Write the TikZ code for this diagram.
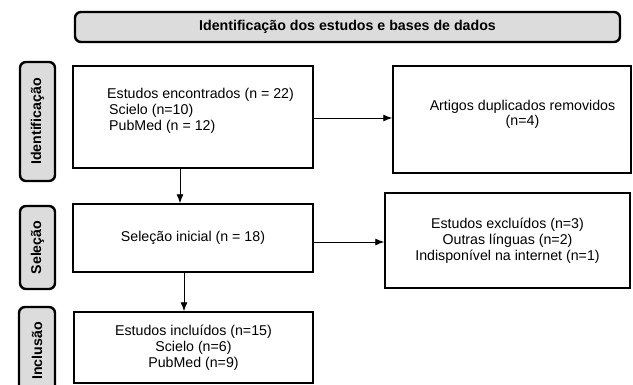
\documentclass[tikz,border=0pt]{standalone}
\usepackage{fontspec}
\setmainfont{Liberation Sans}
\usetikzlibrary{arrows.meta,shadows}
\definecolor{labgray}{HTML}{DCDCDC}
\begin{document}
\begin{tikzpicture}[x=1pt,y=-1pt,
  txt/.style={font=\fontsize{14.2}{16}\selectfont, align=center, inner sep=0pt},
  stagebox/.style={draw, line width=1.5pt, fill=white, inner sep=0pt,
    drop shadow={shadow xshift=0.9pt, shadow yshift=-0.9pt, fill=black, opacity=1}},
  phase/.style={draw, line width=2.4pt, fill=labgray, rounded corners=6pt, inner sep=0pt},
  phasetxt/.style={rotate=90, font=\fontsize{14.2}{16}\selectfont\bfseries, inner sep=0pt},
  link/.style={line width=0.9pt, -{Latex[length=9pt,width=7pt]}}
]
\useasboundingbox (0,0) rectangle (633,384);

% header
\node[phase, minimum width=545pt, minimum height=30pt, font=\fontsize{14.2}{16}\selectfont\bfseries]
  (head) at (347.5,27) {Identificação dos estudos e bases de dados};

% phase labels
\node[phase, minimum width=35pt, minimum height=119pt] (lab1) at (37.5,121.5) {};
\node[phasetxt] (lab1t) at (lab1.center) {Identificação};
\node[phase, minimum width=35pt, minimum height=83pt] (lab2) at (37.5,247.5) {};
\node[phasetxt] (lab2t) at (lab2.center) {Seleção};
\node[phase, minimum width=36pt, minimum height=88pt] (lab3) at (37,351) {};
\node[phasetxt] (lab3t) at (lab3.center) {Inclusão};

% left column boxes
\node[stagebox, minimum width=240pt, minimum height=102pt] (box1) at (193,117) {};
\node[txt, align=left, anchor=west] (box1t) at (107,111)
  {Estudos encontrados (n = 22)\\\hspace{2pt}Scielo (n=10)\\\hspace{2pt}PubMed (n = 12)};
\node[stagebox, minimum width=240pt, minimum height=68pt, txt] (box2) at (193,238)
  {Seleção inicial (n = 18)};
\node[stagebox, minimum width=239pt, minimum height=71pt, txt] (box3) at (193.5,347.5)
  {Estudos incluídos (n=15)\\Scielo (n=6)\\PubMed (n=9)};

% right column boxes
\node[stagebox, minimum width=238pt, minimum height=107pt] (dup) at (512,119.5) {};
\node[txt, font=\fontsize{14.2}{15}\selectfont] (dupt) at (522.5,114) {Artigos duplicados removidos\\(n=4)};
\node[stagebox, minimum width=245pt, minimum height=95pt, txt] (exc) at (507.5,240.5)
  {Estudos excluídos (n=3)\\Outras línguas (n=2)\\Indisponível na internet (n=1)};

% connectors
\draw[link] ([yshift=-1pt]box1.east) -- ([yshift=-1pt]box1.east -| dup.west);
\draw[link] ([yshift=-4pt]box2.east) -- ([yshift=-4pt]box2.east -| exc.west);
\draw[link] ([xshift=-13pt]box1.south) -- ([xshift=-13pt]box1.south |- box2.north);
\draw[link] ([xshift=-9pt]box2.south) -- ([xshift=-9pt]box2.south |- box3.north);
\end{tikzpicture}
\end{document}
